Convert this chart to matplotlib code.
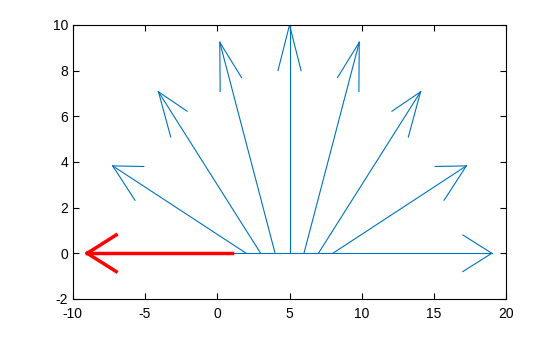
import numpy as np
import matplotlib.pyplot as plt

plt.rcParams['font.family'] = ['Liberation Sans', 'DejaVu Sans']
plt.rcParams['axes.unicode_minus'] = False

# arrow bases on the x axis, directions in degrees, common length
base_x = [1, 2, 3, 4, 5, 6, 7, 8, 9]
angles = [180, 157.5, 135, 112.5, 90, 67.5, 45, 22.5, 0]
length = 10
head_back = 2.0
head_side = 0.8
# blue segment joining the bases
baseline_x = [1, 9]

blue = (0, 0.447, 0.741)

fig = plt.figure(figsize=(5.6, 3.37), dpi=100)
ax = fig.add_axes([0.130, 0.113, 0.774, 0.813])

def draw_arrow(x0, ang, color, lw):
    a = np.deg2rad(ang)
    u, v = np.cos(a), np.sin(a)
    tx, ty = x0 + length * u, length * v
    ax.plot([x0, tx], [0, ty], color=color, lw=lw)
    for s in (1, -1):
        hx = tx - head_back * u + s * head_side * (-v)
        hy = ty - head_back * v + s * head_side * u
        ax.plot([tx, hx], [ty, hy], color=color, lw=lw)

ax.plot(baseline_x, [0, 0], color=blue, lw=0.8)
for x0, ang in zip(base_x[1:], angles[1:]):
    draw_arrow(x0, ang, blue, 0.8)
draw_arrow(base_x[0], angles[0], 'red', 2.5)

ax.set_xlim(-10, 20)
ax.set_ylim(-2, 10)
ax.set_xticks([-10, -5, 0, 5, 10, 15, 20])
ax.set_yticks([-2, 0, 2, 4, 6, 8, 10])
ax.tick_params(direction='in', top=True, right=True, labelsize=10, length=4)
ax.tick_params(axis='x', pad=6)
for sp in ax.spines.values():
    sp.set_linewidth(0.8)

fig.savefig('out.png', dpi=100)
